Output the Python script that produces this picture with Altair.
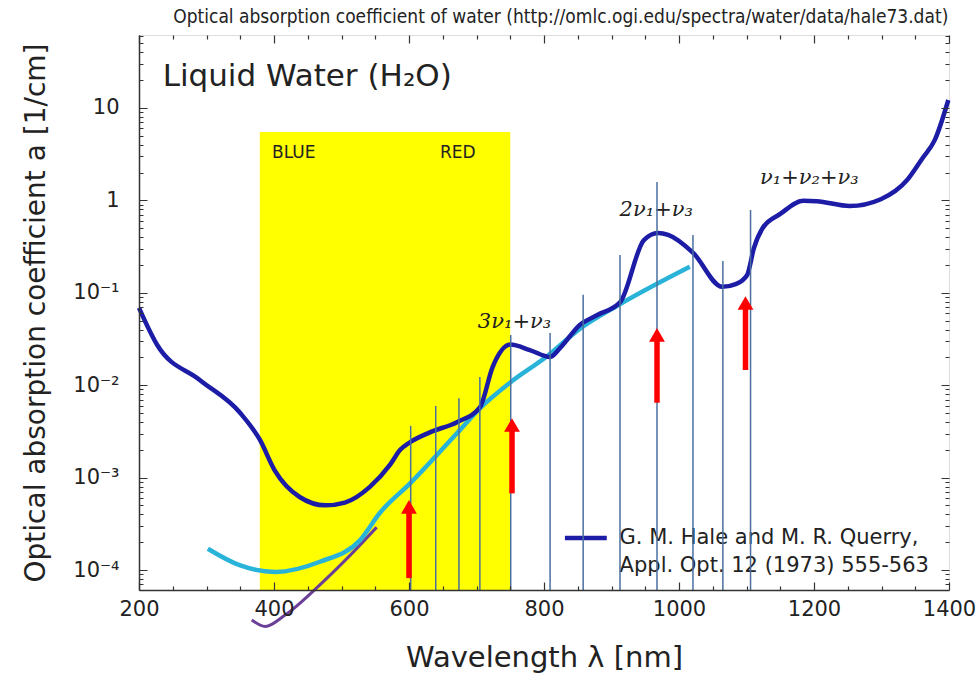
import altair as alt
import pandas as pd

# ---------------- data ----------------
# Hale & Querry (1973) absorption coefficient of liquid water [1/cm]
hq_wavelength = [200, 227, 290, 350, 379, 401, 438, 476, 505, 542, 572, 587, 601, 631, 671,
                 705, 724, 750, 779, 809, 824, 853, 879, 913, 948, 969, 984, 1021, 1064, 1084,
                 1101, 1111, 1124, 1150, 1184, 1204, 1253, 1299, 1338, 1361, 1379, 1399]
hq_absorption = [0.0686, 0.0272, 0.0114, 0.00501, 0.00257, 0.00120, 0.000617, 0.000501, 0.000537,
                 0.000794, 0.00138, 0.00200, 0.0024, 0.00309, 0.00398, 0.00575, 0.0158, 0.0275,
                 0.0240, 0.0202, 0.0253, 0.0449, 0.0575, 0.0794, 0.372, 0.444, 0.423, 0.270,
                 0.116, 0.124, 0.156, 0.305, 0.502, 0.713, 0.99, 0.98, 0.869, 1.03, 1.66, 2.88,
                 4.51, 12.2]

# smooth cyan curve
cyan_wavelength = [302, 350, 402, 468, 527, 557, 602, 671, 705, 750, 804, 853, 911, 1016]
cyan_absorption = [0.000170, 0.000112, 0.0000955, 0.000123, 0.000209, 0.000417, 0.000871,
                   0.00302, 0.00562, 0.0107, 0.0204, 0.0407, 0.0741, 0.191]

# purple curve (dips below the axis)
purple_wavelength = [367, 387, 416, 468, 513, 552]
purple_absorption = [2.88e-5, 2.45e-5, 3.24e-5, 6.92e-5, 1.45e-4, 2.9e-4]

# thin vertical lines: wavelength and top value
vline_wavelength = [602.5, 639.6, 674, 705, 750.7, 809, 858, 912.6, 967.4, 1020.7, 1065, 1106]
vline_top = [0.00363, 0.00596, 0.00724, 0.0123, 0.0349, 0.0367, 0.0955, 0.257, 1.58, 0.422,
             0.221, 0.787]

# red arrows
arrow_wavelength = [600, 752.6, 967.4, 1098.5]
arrow_base = [8.18e-5, 6.76e-4, 6.46e-3, 0.0146]
arrow_tip = [5.75e-4, 4.42e-3, 0.0417, 0.0923]

# visible band
band_start, band_end, band_top = [379], [750], [5.5]
band_labels = ["BLUE", "RED"]
band_label_wavelength = [397, 646]
band_label_value = [3.26, 3.26]

# overtone labels
overtone_labels = ["3ν₁+ν₃", "2ν₁+ν₃", "ν₁+ν₂+ν₃"]
overtone_wavelength = [702, 912, 1120]
overtone_value = [0.0483, 0.787, 1.75]

# legend
legend_lines = ["G. M. Hale and M. R. Querry,", "Appl. Opt. 12 (1973) 555-563"]
legend_text_wavelength = [912, 912]
legend_text_value = [2.22e-4, 1.10e-4]
legend_symbol_wavelength = [831, 893]
legend_symbol_value = [2.22e-4]

heading = ["Liquid Water (H₂O)"]
heading_wavelength = [235]
heading_value = [21.6]

source_note = ["Optical absorption coefficient of water (http://omlc.ogi.edu/spectra/water/data/hale73.dat)"]
source_wavelength = [1399]
source_value = [96.6]

x_domain = [200, 1400]
y_domain = [6.08e-5, 61.6]
x_ticks = list(range(200, 1401, 50))
y_ticks = [m * 10.0 ** e for e in range(-5, 2) for m in range(1, 10)
           if y_domain[0] <= m * 10.0 ** e <= y_domain[1]]
y_major_exp = [-4, -3, -2, -1, 0, 1]
y_major_label = ["10⁻⁴", "10⁻³", "10⁻²", "10⁻¹", "1", "10"]

# ---------------- chart ----------------
W, H = 810, 555
FONT = "DejaVu Sans"
TXT = "#222222"
FRAME = "#333333"

log10 = "(log(datum.value)/LN10)"
is_major_y = f"abs({log10} - round({log10})) < 0.001"
y_label_expr = "".join(
    f"round({log10}) == {e} ? '{lab}' : " for e, lab in zip(y_major_exp, y_major_label)
) + "''"

xs = alt.Scale(domain=x_domain, nice=False, zero=False)
ys = alt.Scale(type="log", domain=y_domain, nice=False)

x_axis = alt.Axis(
    values=x_ticks,
    labelExpr="datum.value % 200 === 0 ? format(datum.value, 'd') : ''",
    ticks=False, domain=True, domainColor=FRAME, domainWidth=1.5,
    grid=True, gridColor=FRAME, gridWidth=1.2, gridOpacity=1,
    gridDash={"condition": {"test": "datum.value % 200 === 0", "value": [8, H - 16]},
              "value": [4, H - 8]},
    labelFont=FONT, labelFontSize=21, labelColor=TXT, labelPadding=8,
    labelFlush=False, labelOverlap=False,
    title="Wavelength λ [nm]", titleFont=FONT, titleFontSize=29, titleFontWeight="normal",
    titleColor=TXT, titlePadding=24, zindex=1,
)
y_axis = alt.Axis(
    values=y_ticks,
    labelExpr=f"{is_major_y} ? ({y_label_expr}) : ''",
    ticks=False, domain=True, domainColor=FRAME, domainWidth=1.5,
    grid=True, gridColor=FRAME, gridWidth=1.2, gridOpacity=1,
    gridDash={"condition": {"test": is_major_y, "value": [8, W - 16]},
              "value": [4, W - 8]},
    labelFont=FONT, labelFontSize=21, labelColor=TXT, labelPadding=20,
    labelFlush=False, labelOverlap=False,
    title="Optical absorption coefficient a [1/cm]", titleFont=FONT, titleFontSize=28,
    titleFontWeight="normal", titleColor=TXT, titlePadding=22, zindex=1,
)

X = alt.X("wl:Q", scale=xs, axis=x_axis)
Y = alt.Y("a:Q", scale=ys, axis=y_axis)

band_df = pd.DataFrame({"wl": band_start, "wl2": band_end, "a": band_top, "a2": [y_domain[0]]})
band = alt.Chart(band_df).mark_rect(color="#ffff00").encode(
    x=X, x2="wl2:Q", y=Y, y2="a2:Q")

band_text = alt.Chart(pd.DataFrame({"wl": band_label_wavelength, "a": band_label_value,
                                    "t": band_labels})).mark_text(
    font=FONT, fontSize=17, color=TXT, align="left", baseline="middle").encode(
    x=X, y=Y, text="t:N")

purple = alt.Chart(pd.DataFrame({"wl": purple_wavelength, "a": purple_absorption})).mark_line(
    color="#6b3f98", strokeWidth=3, interpolate="monotone", clip=False).encode(x=X, y=Y)
cyan = alt.Chart(pd.DataFrame({"wl": cyan_wavelength, "a": cyan_absorption})).mark_line(
    color="#2ab3d9", strokeWidth=4.5, interpolate="monotone").encode(x=X, y=Y)
hq = alt.Chart(pd.DataFrame({"wl": hq_wavelength, "a": hq_absorption})).mark_line(
    color="#1c1ca6", strokeWidth=4.5, interpolate="monotone").encode(x=X, y=Y)

heading_text = alt.Chart(pd.DataFrame({"wl": heading_wavelength, "a": heading_value,
                                       "t": heading})).mark_text(
    font=FONT, fontSize=31, color=TXT, align="left", baseline="middle").encode(
    x=X, y=Y, text="t:N")

source_text = alt.Chart(pd.DataFrame({"wl": source_wavelength, "a": source_value,
                                      "t": source_note})).mark_text(
    font="Liberation Sans Narrow, DejaVu Sans Condensed, sans-serif", fontSize=19,
    color=TXT, align="right", baseline="middle", clip=False).encode(x=X, y=Y, text="t:N")

overtone_text = alt.Chart(pd.DataFrame({"wl": overtone_wavelength, "a": overtone_value,
                                        "t": overtone_labels})).mark_text(
    font="DejaVu Serif", fontStyle="italic", fontSize=21, color=TXT, align="left",
    baseline="middle").encode(x=X, y=Y, text="t:N")

legend_symbol = alt.Chart(pd.DataFrame({"wl": [legend_symbol_wavelength[0]],
                                        "wl2": [legend_symbol_wavelength[1]],
                                        "a": legend_symbol_value})).mark_rule(
    color="#1c1ca6", strokeWidth=4.5).encode(x=X, x2="wl2:Q", y=Y)
legend_text = alt.Chart(pd.DataFrame({"wl": legend_text_wavelength, "a": legend_text_value,
                                      "t": legend_lines})).mark_text(
    font=FONT, fontSize=21, color=TXT, align="left", baseline="middle").encode(
    x=X, y=Y, text="t:N")

vlines = alt.Chart(pd.DataFrame({"wl": vline_wavelength, "a": vline_top,
                                 "a2": [y_domain[0]] * len(vline_wavelength)})).mark_rule(
    color="#4a6f9f", strokeWidth=1.5).encode(x=X, y=Y, y2="a2:Q")

arrow_df = pd.DataFrame({"wl": arrow_wavelength, "a": arrow_base, "tip": arrow_tip})
arrow_shaft = alt.Chart(arrow_df).mark_rule(color="#ff0000", strokeWidth=5.5, y2Offset=8).encode(
    x=X, y=Y, y2="tip:Q")
arrow_head = alt.Chart(arrow_df).mark_point(
    shape="triangle-up", filled=True, size=250, color="#ff0000", opacity=1, yOffset=7).encode(
    x=X, y=alt.Y("tip:Q", scale=ys, axis=y_axis))

chart = alt.layer(
    band, band_text, purple, cyan, hq, heading_text, source_text, overtone_text,
    legend_symbol, legend_text, vlines, arrow_shaft, arrow_head,
).properties(
    width=W, height=H,
    autosize=alt.AutoSizeParams(type="none"),
    padding={"left": 139, "top": 35, "right": 31, "bottom": 92},
).configure_view(stroke=FRAME, strokeWidth=1.5).configure(background="white")

chart.save("out.html", embed_options={"renderer": "svg", "actions": False})
